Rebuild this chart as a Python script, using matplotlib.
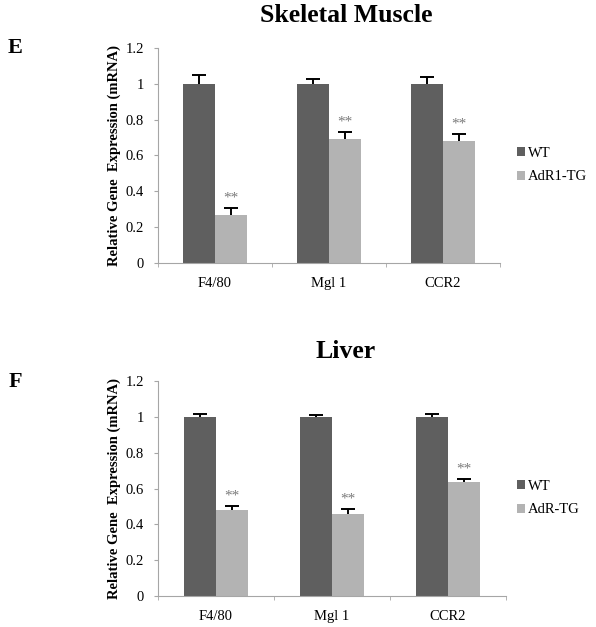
import numpy as np
import matplotlib.pyplot as plt

plt.rcParams['font.family'] = ['Liberation Serif', 'DejaVu Serif']

genes = ["F4/80", "Mgl 1", "CCR2"]

muscle_wt = [1.0, 1.0, 1.0]
muscle_wt_err = [0.05, 0.025, 0.04]
muscle_tg = [0.27, 0.69, 0.68]
muscle_tg_err = [0.035, 0.04, 0.04]

liver_wt = [1.0, 1.0, 1.0]
liver_wt_err = [0.015, 0.012, 0.015]
liver_tg = [0.48, 0.46, 0.635]
liver_tg_err = [0.02, 0.025, 0.02]

WT_COL = "#5f5f5f"
TG_COL = "#b3b3b3"
AX_COL = "#a6a6a6"

W, H = 596, 627


def panel(fig, rect, wt, wt_err, tg, tg_err, title, letter, tg_name, title_y, letter_y, leg_y):
    ax = fig.add_axes(rect)
    x = np.arange(len(genes))
    w = 0.28
    b1 = ax.bar(x - w / 2, wt, w, color=WT_COL, label="WT", zorder=2)
    b2 = ax.bar(x + w / 2, tg, w, color=TG_COL, label=tg_name, zorder=2)
    # error bars sit behind the bars so only the upper half shows
    ax.errorbar(x - w / 2, wt, yerr=wt_err, fmt="none", ecolor="black",
                elinewidth=1.4, capsize=5, capthick=1.4, zorder=1)
    ax.errorbar(x + w / 2, tg, yerr=tg_err, fmt="none", ecolor="black",
                elinewidth=1.4, capsize=5, capthick=1.4, zorder=1)
    for xi, v, e in zip(x, tg, tg_err):
        ax.text(xi + w / 2, v + e + 0.02, "**", ha="center", va="bottom",
                fontsize=11, color="#7a7a7a")

    ax.set_xlim(-0.5, 2.5)
    ax.set_ylim(0, 1.2)
    ax.set_yticks(np.arange(0, 1.21, 0.2))
    ax.set_yticklabels(["0", "0.2", "0.4", "0.6", "0.8", "1", "1.2"])
    ax.set_xticks(x)
    ax.set_xticklabels(genes)
    ax.set_xticks([-0.5, 0.5, 1.5, 2.5], minor=True)
    ax.tick_params(axis="x", which="major", length=0, pad=10, labelsize=10.5)
    ax.tick_params(axis="x", which="minor", length=3, color=AX_COL)
    ax.tick_params(axis="y", length=3, color=AX_COL, labelsize=10.5, pad=7)
    for s in ["top", "right"]:
        ax.spines[s].set_visible(False)
    for s in ["left", "bottom"]:
        ax.spines[s].set_color(AX_COL)
    ax.set_ylabel("Relative Gene  Expression (mRNA)", fontsize=10.5,
                  fontweight="bold", labelpad=3.5)

    fig.text(346 / W, title_y, title, ha="center", va="center",
             fontsize=18.5, fontweight="bold")
    fig.text(15 / W, letter_y, letter, ha="center", va="center",
             fontsize=16, fontweight="bold")
    fig.legend(handles=[b1, b2], loc="center left", bbox_to_anchor=(517 / W, leg_y),
               frameon=False, fontsize=10.5, handlelength=0.55, handleheight=0.55,
               handletextpad=0.2, labelspacing=0.75, borderaxespad=0, borderpad=0)
    return ax


fig = plt.figure(figsize=(W / 100, H / 100), dpi=100)

panel(fig, [158 / W, 1 - 263 / H, 342 / W, 215 / H], muscle_wt, muscle_wt_err,
      muscle_tg, muscle_tg_err, "Skeletal Muscle", "E", "AdR1-TG",
      1 - 16 / H, 1 - 48 / H, 1 - 165 / H)
panel(fig, [158 / W, 1 - 596 / H, 348 / W, 215 / H], liver_wt, liver_wt_err,
      liver_tg, liver_tg_err, "Liver", "F", "AdR-TG",
      1 - 351 / H, 1 - 382 / H, 1 - 498 / H)

fig.savefig("out.png", dpi=100)
